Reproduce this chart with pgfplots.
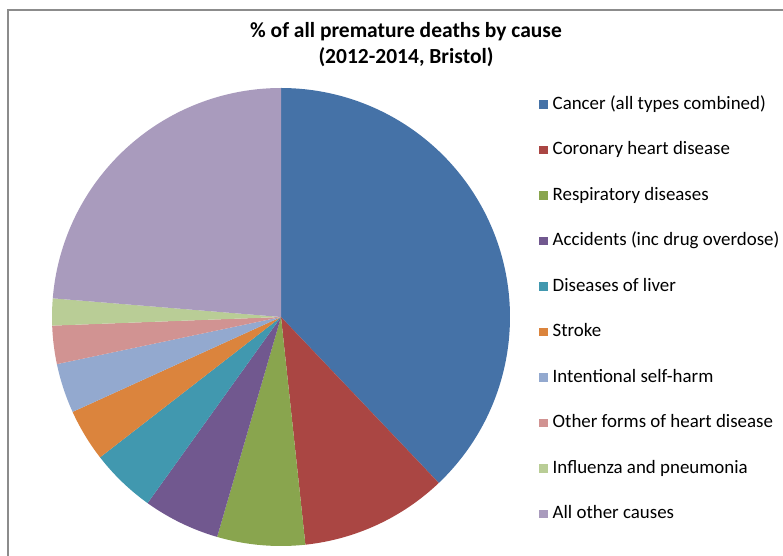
\documentclass[border=0pt]{standalone}
\usepackage{pgfplots}
\pgfplotsset{compat=1.18}
\usepackage{fontspec}
\setmainfont{Carlito}
\definecolor{cA}{HTML}{4572A7}
\definecolor{cB}{HTML}{AA4643}
\definecolor{cC}{HTML}{89A54E}
\definecolor{cD}{HTML}{71588F}
\definecolor{cE}{HTML}{4198AF}
\definecolor{cF}{HTML}{DB843D}
\definecolor{cG}{HTML}{93A9CF}
\definecolor{cH}{HTML}{D19392}
\definecolor{cI}{HTML}{B9CD96}
\definecolor{cJ}{HTML}{A99BBD}
% shares of premature deaths, %
\def\pA{37.9}\def\pB{10.4}\def\pC{6.2}\def\pD{5.4}\def\pE{4.6}
\def\pF{3.7}\def\pG{3.5}\def\pH{2.7}\def\pI{1.9}\def\pJ{23.7}
\pgfmathsetmacro\sA{0}
\pgfmathsetmacro\sB{\sA+\pA*3.6}
\pgfmathsetmacro\sC{\sB+\pB*3.6}
\pgfmathsetmacro\sD{\sC+\pC*3.6}
\pgfmathsetmacro\sE{\sD+\pD*3.6}
\pgfmathsetmacro\sF{\sE+\pE*3.6}
\pgfmathsetmacro\sG{\sF+\pF*3.6}
\pgfmathsetmacro\sH{\sG+\pG*3.6}
\pgfmathsetmacro\sI{\sH+\pH*3.6}
\pgfmathsetmacro\sJ{\sI+\pI*3.6}
\pgfmathsetmacro\sK{\sJ+\pJ*3.6}
\def\cx{281}\def\cy{239}\def\rr{229}
\begin{document}
\begin{tikzpicture}
\begin{axis}[
  width=783bp, height=556bp, scale only axis,
  xmin=0, xmax=783, ymin=0, ymax=556,
  hide axis, clip=false,
  legend image code/.code={\fill[#1] (0bp,-4bp) rectangle (8.5bp,4.5bp);},
  legend cell align=left,
  legend style={at={(axis cs:536,462)}, anchor=north west, draw=none, fill=none,
    font=\fontsize{18.9bp}{22bp}\selectfont, row sep=28.5bp,
    nodes={inner sep=0pt, text height=13bp, text depth=4bp},
    /tikz/every odd column/.append style={column sep=5bp}},
]
\addplot[fill=cA, draw=none, domain=\sA:\sB, samples=120] ({\cx+\rr*sin(x)},{\cy+\rr*cos(x)}) -- (axis cs:\cx,\cy) -- cycle;
\addlegendentry{Cancer (all types combined)}
\addplot[fill=cB, draw=none, domain=\sB:\sC, samples=60] ({\cx+\rr*sin(x)},{\cy+\rr*cos(x)}) -- (axis cs:\cx,\cy) -- cycle;
\addlegendentry{Coronary heart disease}
\addplot[fill=cC, draw=none, domain=\sC:\sD, samples=40] ({\cx+\rr*sin(x)},{\cy+\rr*cos(x)}) -- (axis cs:\cx,\cy) -- cycle;
\addlegendentry{Respiratory diseases}
\addplot[fill=cD, draw=none, domain=\sD:\sE, samples=40] ({\cx+\rr*sin(x)},{\cy+\rr*cos(x)}) -- (axis cs:\cx,\cy) -- cycle;
\addlegendentry{Accidents (inc drug overdose)}
\addplot[fill=cE, draw=none, domain=\sE:\sF, samples=40] ({\cx+\rr*sin(x)},{\cy+\rr*cos(x)}) -- (axis cs:\cx,\cy) -- cycle;
\addlegendentry{Diseases of liver}
\addplot[fill=cF, draw=none, domain=\sF:\sG, samples=40] ({\cx+\rr*sin(x)},{\cy+\rr*cos(x)}) -- (axis cs:\cx,\cy) -- cycle;
\addlegendentry{Stroke}
\addplot[fill=cG, draw=none, domain=\sG:\sH, samples=40] ({\cx+\rr*sin(x)},{\cy+\rr*cos(x)}) -- (axis cs:\cx,\cy) -- cycle;
\addlegendentry{Intentional self-harm}
\addplot[fill=cH, draw=none, domain=\sH:\sI, samples=40] ({\cx+\rr*sin(x)},{\cy+\rr*cos(x)}) -- (axis cs:\cx,\cy) -- cycle;
\addlegendentry{Other forms of heart disease}
\addplot[fill=cI, draw=none, domain=\sI:\sJ, samples=40] ({\cx+\rr*sin(x)},{\cy+\rr*cos(x)}) -- (axis cs:\cx,\cy) -- cycle;
\addlegendentry{Influenza and pneumonia}
\addplot[fill=cJ, draw=none, domain=\sJ:\sK, samples=100] ({\cx+\rr*sin(x)},{\cy+\rr*cos(x)}) -- (axis cs:\cx,\cy) -- cycle;
\addlegendentry{All other causes}
\draw[gray!90, line width=1.5bp] (axis cs:8,0) -- (axis cs:8,546) -- (axis cs:783,546);
\node[font=\bfseries\fontsize{21.5bp}{26bp}\selectfont, align=center] at (axis cs:406,511) {\% of all premature deaths by cause\\(2012-2014, Bristol)};
\end{axis}
\pgfresetboundingbox
\useasboundingbox (current axis.south west) rectangle (current axis.north east);
\end{tikzpicture}
\end{document}
